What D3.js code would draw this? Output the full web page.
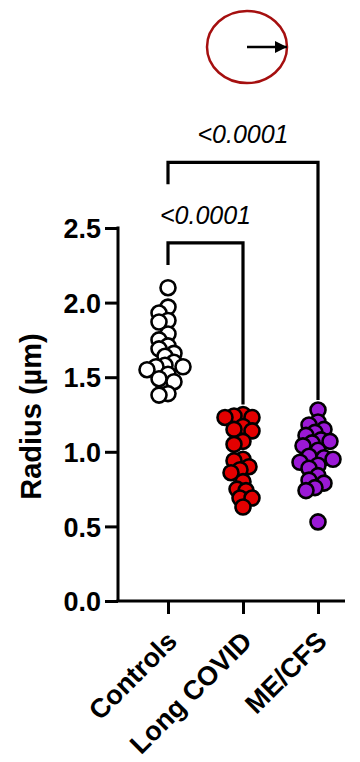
<!DOCTYPE html>
<html>
<head>
<meta charset="utf-8">
<script src="https://cdn.jsdelivr.net/npm/d3@7"></script>
<style>
  html, body { margin: 0; padding: 0; background: #fff; }
  svg { display: block; font-family: "Liberation Sans", Arial, sans-serif; }
</style>
</head>
<body>
<svg id="chart" width="360" height="762"></svg>
<script>
const categories = ["Controls", "Long COVID", "ME/CFS"];
const controls = [2.10, 1.97, 1.93, 1.88, 1.87, 1.79, 1.75, 1.71, 1.69, 1.66, 1.64, 1.60,
  1.58, 1.57, 1.57, 1.55, 1.52, 1.49, 1.47, 1.39, 1.38];
const longCovid = [1.25, 1.24, 1.23, 1.23, 1.17, 1.15, 1.14, 1.07, 1.05, 0.95, 0.94, 0.90,
  0.88, 0.86, 0.80, 0.75, 0.74, 0.69, 0.69, 0.63];
const meCfs = [1.28, 1.20, 1.18, 1.15, 1.13, 1.11, 1.08, 1.07, 1.06, 1.04, 1.01, 0.97,
  0.96, 0.95, 0.93, 0.91, 0.89, 0.84, 0.81, 0.79, 0.76, 0.74, 0.53];
const yTicks = [0, 0.5, 1, 1.5, 2, 2.5];
const comparisons = [
  {from: "Controls", to: "Long COVID", label: "<0.0001", level: 2.40},
  {from: "Controls", to: "ME/CFS", label: "<0.0001", level: 2.94}
];

const series = [controls, longCovid, meCfs];
const fills = ["#ffffff", "#e30000", "#9b19d6"];

const svg = d3.select("#chart");
const x = d3.scalePoint().domain(categories).range([168, 318]);
const y = d3.scaleLinear().domain([0, 2.5]).range([601, 228]);

const DOT_R = 7.5
const MIN_DIST = 8.5

// simple beeswarm: try the centre first, then step outwards on both sides
function swarm(values, cx) {
  const placed = [];
  values.slice().sort((a, b) => b - a).forEach(v => {
    const py = y(v);
    for (let k = 0; k < 60; k++) {
      const off = (k % 2 === 0 ? 1 : -1) * Math.ceil(k / 2) * 3;
      const px = cx + off;
      if (placed.every(p => Math.hypot(p.x - px, p.y - py) >= MIN_DIST)) {
        placed.push({x: px, y: py, v});
        break;
      }
    }
  });
  return placed;
}

// y axis
const yAxis = svg.append("g")
  .attr("transform", "translate(118,0)")
  .call(d3.axisLeft(y).tickValues(yTicks).tickFormat(d3.format(".1f")).tickSize(13).tickPadding(4).tickSizeOuter(0));
yAxis.selectAll("path, line").attr("stroke", "#000").attr("stroke-width", 3);
yAxis.select(".domain").attr("d", "M0,601V226.5");
yAxis.selectAll("text").attr("font-size", 27).attr("font-weight", "bold").attr("fill", "#000").attr("dy", "0.36em");

// x axis
const xAxis = svg.append("g")
  .attr("transform", "translate(0,601)")
  .call(d3.axisBottom(x).tickSize(13).tickSizeOuter(0));
xAxis.selectAll("path, line").attr("stroke", "#000").attr("stroke-width", 3);
xAxis.select(".domain").attr("d", "M116.5,0H345");
xAxis.selectAll("text")
  .attr("font-size", 27).attr("font-weight", "bold").attr("fill", "#000")
  .attr("text-anchor", "end")
  .attr("y", 0).attr("dy", 0)
  .attr("transform", "translate(10,42) rotate(-45)");

// axis title
svg.append("text")
  .attr("transform", `translate(41,${y(1.25) + 2}) rotate(-90)`)
  .attr("text-anchor", "middle")
  .attr("font-size", 29).attr("font-weight", "bold")
  .text("Radius (µm)");

// dots
series.forEach((vals, i) => {
  const pts = swarm(vals, x(categories[i]));
  svg.append("g").selectAll("circle")
    .data(pts)
    .join("circle")
    .attr("cx", d => d.x)
    .attr("cy", d => d.y)
    .attr("r", DOT_R)
    .attr("fill", fills[i])
    .attr("stroke", "#000")
    .attr("stroke-width", 2.6);
});

// significance brackets
comparisons.forEach(c => {
  const x0 = x(c.from), x1 = x(c.to);
  const top = y(c.level);
  const target = series[categories.indexOf(c.to)];
  const legEnd = y(d3.max(target)) - 10;
  svg.append("path")
    .attr("d", `M${x0},${top + 22}V${top}H${x1}V${legEnd}`)
    .attr("fill", "none")
    .attr("stroke", "#000")
    .attr("stroke-width", 3.2);
  svg.append("text")
    .attr("x", (x0 + x1) / 2)
    .attr("y", top - 19)
    .attr("text-anchor", "middle")
    .attr("font-size", 25)
    .attr("font-style", "italic")
    .text(c.label);
});

// icon: circle with radius arrow
svg.append("defs").append("marker")
  .attr("id", "head")
  .attr("viewBox", "0 0 10 10")
  .attr("refX", 10).attr("refY", 5)
  .attr("markerWidth", 12).attr("markerHeight", 12)
  .attr("markerUnits", "userSpaceOnUse")
  .attr("orient", "auto")
  .append("path").attr("d", "M0,0L10,5L0,10Z").attr("fill", "#000");
svg.append("ellipse")
  .attr("cx", 247).attr("cy", 47).attr("rx", 40).attr("ry", 36)
  .attr("fill", "none").attr("stroke", "#a50f0f").attr("stroke-width", 2.5);
svg.append("line")
  .attr("x1", 247).attr("y1", 47).attr("x2", 287).attr("y2", 47)
  .attr("stroke", "#000").attr("stroke-width", 2.5)
  .attr("marker-end", "url(#head)");
</script>
</body>
</html>
